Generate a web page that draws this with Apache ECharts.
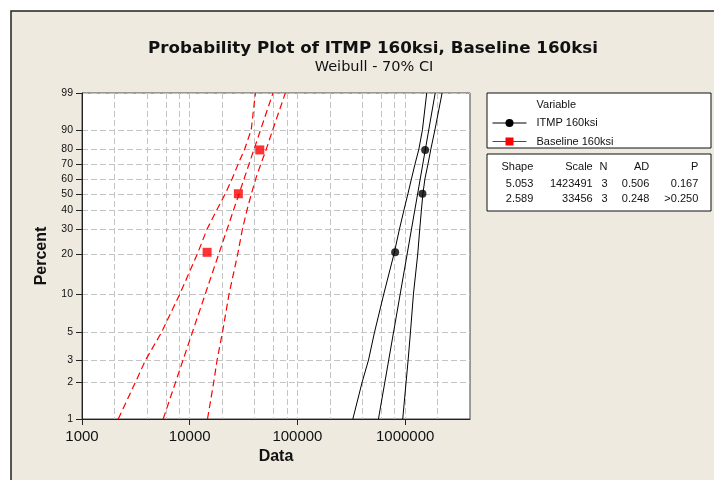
<!DOCTYPE html>
<html><head><meta charset="utf-8">
<script src="https://cdn.jsdelivr.net/npm/echarts@6/dist/echarts.min.js"></script>
<style>html,body{margin:0;padding:0;background:#fff}#c{width:714px;height:480px}</style>
</head><body><div id="c"></div>
<script>
// ---- data ----
const xTickLabels = [1000, 10000, 100000, 1000000];
const xGridValues = [2000,4000,6000,8000,10000,20000,40000,60000,80000,100000,200000,400000,600000,800000,1000000,2000000];
const yTickPercents = [1,2,3,5,10,20,30,40,50,60,70,80,90,99];

const bandPercents = [1,2,3,5,10,20,30,40,50,60,70,80,90,99];
const fitPercents = [1, 99];
const pointPercents = [20.6, 50, 79.4];

const itmpPoints = [807700, 1446800, 1532000];
const itmpFit = [565000, 1900000];
const itmpLower = [326900, 399500, 457000, 519500, 633500, 787500, 885600, 974800, 1061500, 1144000, 1232600, 1342500, 1446800, 1586000];
const itmpUpper = [950000, 1021000, 1066000, 1120000, 1194000, 1309000, 1366000, 1416000, 1462000, 1526000, 1627000, 1734000, 1889000, 2203000];

const basePoints = [14500, 28300, 44700];
const baseFit = [5670, 59300];
const baseLower = [2170, 3145, 3894, 5478, 8093, 11760, 14500, 17830, 21380, 24720, 28090, 32410, 37230, 40730];
const baseUpper = [14620, 16730, 17950, 20140, 23190, 27910, 30850, 34040, 37400, 40990, 45600, 51500, 58920, 77260];

const seriesNames = ['ITMP 160ksi', 'Baseline 160ksi'];
const statsHeader = ['Shape', 'Scale', 'N', 'AD', 'P'];
const statsRows = [
  ['5.053', '1423491', '3', '0.506', '0.167'],
  ['2.589', '33456', '3', '0.248', '>0.250']
];

// ---- Weibull probability scale transform ----
const wt = p => Math.log(-Math.log(1 - p / 100));
const pair = (xs, ps) => xs.map((x, i) => [x, wt(ps[i])]);

const FONT = 'Liberation Sans';
const TFONT = 'DejaVu Sans';
const yMin = wt(1), yMax = wt(99);

const statCols = [533.3, 592.7, 607.5, 649.3, 698.3];
const statRowsY = [166.5, 184.3, 199.3];
const statTexts = [];
[statsHeader].concat(statsRows).forEach((row, r) => {
  row.forEach((s, c) => {
    statTexts.push({type:'text', x: statCols[c], y: statRowsY[r], style:{text: s, fill:'#111', font: '11px ' + FONT, textAlign:'right', textVerticalAlign:'middle'}});
  });
});

const chart = echarts.init(document.getElementById('c'), null, {renderer:'canvas'});
const lineBase = {type:'line', showSymbol:false, silent:true, animation:false};
const redDash = [7, 4];
const option = {
  animation: false,
  backgroundColor: '#ffffff',
  title: [
    {text: 'Probability Plot of ITMP 160ksi, Baseline 160ksi', left: 368, top: 35, textAlign: 'center',
     textStyle: {fontFamily: TFONT, fontWeight: 'bold', fontSize: 16.7, color: '#111'}},
    {text: 'Weibull - 70% CI', left: 369, top: 55, textAlign: 'center',
     textStyle: {fontFamily: TFONT, fontWeight: 'normal', fontSize: 14.5, color: '#111'}}
  ],
  graphic: [
    {type:'rect', z:-10, shape:{x:11, y:11, width:740, height:500}, style:{fill:'#EEEAE0', stroke:'#222', lineWidth:1.5}},
    {type:'rect', z:-5, shape:{x:487, y:93, width:224, height:55}, style:{fill:'#fff', stroke:'#111', lineWidth:1}},
    {type:'rect', z:-5, shape:{x:487, y:154, width:224, height:57}, style:{fill:'#fff', stroke:'#111', lineWidth:1}},
    {type:'text', x:536.5, y:105, style:{text:'Variable', fill:'#111', font:'11px ' + FONT, textVerticalAlign:'middle'}}
  ].concat(statTexts),
  legend: {
    data: seriesNames, orient:'vertical', left: 492, top: 117.5, padding: 0,
    itemWidth: 34, itemHeight: 10, itemGap: 7.5,
    textStyle: {fontFamily: FONT, fontSize: 11, color:'#111', padding:[0,0,0,5]},
    lineStyle: {type:'solid', width:1}
  },
  grid: {show:true, left:82, top:93, width:388, height:326, backgroundColor:'#fff', borderColor:'#444', borderWidth:1},
  xAxis: [
    {type:'log', logBase:10, min:1000, max:4000000,
     name:'Data', nameLocation:'middle', nameGap:30,
     nameTextStyle:{fontFamily:FONT, fontWeight:'bold', fontSize:16, color:'#111'},
     axisLine:{show:true, onZero:false, lineStyle:{color:'#222', width:1}},
     axisTick:{show:true, length:6, inside:false, customValues: xTickLabels, lineStyle:{color:'#222'}},
     axisLabel:{show:true, margin:10, customValues: xTickLabels, fontFamily:FONT, fontSize:15, color:'#111', formatter: v => String(Math.round(v))},
     splitLine:{show:false}, minorTick:{show:false}, minorSplitLine:{show:false}},
    {type:'log', logBase:10, min:1000, max:4000000, position:'bottom',
     axisLine:{show:false, onZero:false}, axisLabel:{show:false},
     axisTick:{show:false, customValues: xGridValues},
     splitLine:{show:true, lineStyle:{color:'#C4C4C4', type:[6,3], width:1}}}
  ],
  yAxis: {
    type:'value', min: yMin, max: yMax,
    name:'Percent', nameLocation:'middle', nameGap:32,
    nameTextStyle:{fontFamily:FONT, fontWeight:'bold', fontSize:16, color:'#111'},
    axisLine:{show:true, onZero:false, lineStyle:{color:'#222', width:1}},
    axisTick:{show:true, length:6, customValues: yTickPercents.map(wt), lineStyle:{color:'#222'}},
    axisLabel:{show:true, margin:9, customValues: yTickPercents.map(wt), fontFamily:FONT, fontSize:10.5, color:'#111',
      formatter: v => String(Math.round(100 * (1 - Math.exp(-Math.exp(v)))))},
    splitLine:{show:true, lineStyle:{color:'#C4C4C4', type:[6,3], width:1}}
  },
  series: [
    Object.assign({}, lineBase, {name: seriesNames[0], symbol:'circle', data: pair(itmpFit, fitPercents), itemStyle:{color:'#000'}, lineStyle:{color:'#000', width:1}}),
    Object.assign({}, lineBase, {name: 'itmpLower', data: pair(itmpLower, bandPercents), itemStyle:{color:'#000'}, lineStyle:{color:'#000', width:1}}),
    Object.assign({}, lineBase, {name: 'itmpUpper', data: pair(itmpUpper, bandPercents), itemStyle:{color:'#000'}, lineStyle:{color:'#000', width:1}}),
    {type:'scatter', name:'itmpPts', symbol:'circle', symbolSize:8, silent:true, data: pair(itmpPoints, pointPercents), itemStyle:{color:'#000'}, z:5},
    Object.assign({}, lineBase, {name: seriesNames[1], symbol:'rect', data: pair(baseFit, fitPercents), itemStyle:{color:'#FF0000'}, lineStyle:{color:'#FF0000', width:1.2, type:redDash}}),
    Object.assign({}, lineBase, {name: 'baseLower', data: pair(baseLower, bandPercents), itemStyle:{color:'#FF0000'}, lineStyle:{color:'#FF0000', width:1.2, type:redDash}}),
    Object.assign({}, lineBase, {name: 'baseUpper', data: pair(baseUpper, bandPercents), itemStyle:{color:'#FF0000'}, lineStyle:{color:'#FF0000', width:1.2, type:redDash}}),
    {type:'scatter', name:'basePts', symbol:'rect', symbolSize:9, silent:true, data: pair(basePoints, pointPercents), itemStyle:{color:'#FF0000'}, z:5}
  ]
};
chart.setOption(option);
</script>
</body></html>
